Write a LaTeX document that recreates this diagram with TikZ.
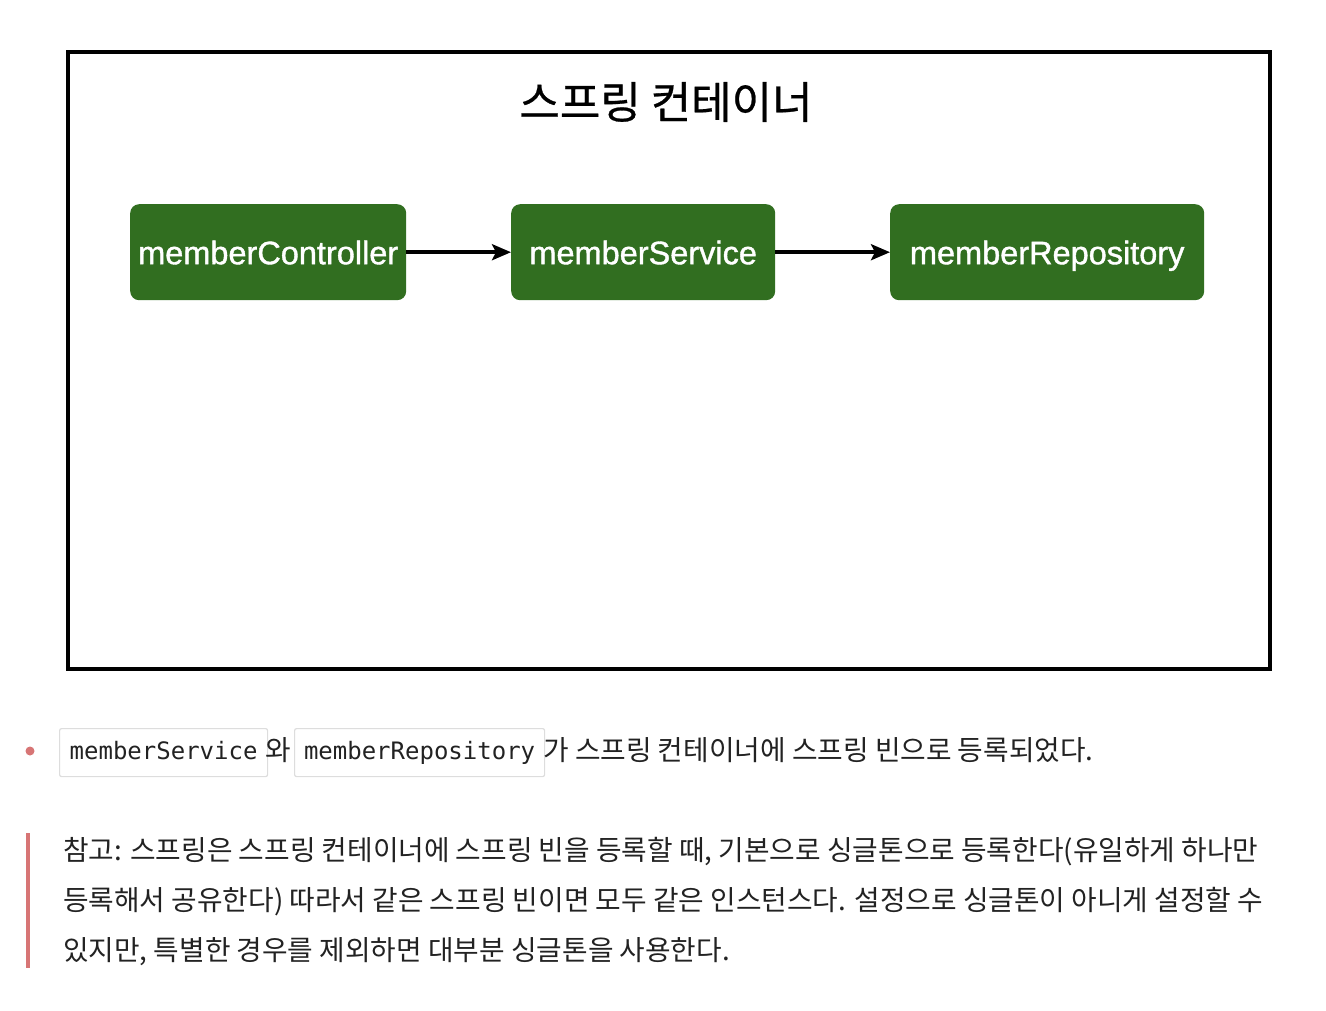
\documentclass[tikz,border=0pt]{standalone}
\usepackage{fontspec}
\usetikzlibrary{arrows.meta}
\newfontfamily\krfont{Noto Sans CJK KR}
\newfontfamily\titlefont[FakeBold=0.6]{Noto Sans CJK KR}
\newfontfamily\boxfont[FakeBold=1.2]{Liberation Sans}
\newfontfamily\codefont{DejaVu Sans Mono}
\definecolor{beangreen}{HTML}{316E20}
\definecolor{txt}{HTML}{222222}
\definecolor{quotebar}{HTML}{D77575}
\definecolor{codeborder}{HTML}{DDDDDD}
\tikzset{
  bean/.style={draw=none, fill=beangreen, rounded corners=9pt, text=white,
    font=\boxfont\fontsize{32.5}{38}\selectfont, inner sep=0pt, anchor=north west,
    text height=28pt, text depth=4pt},
  link/.style={line width=3.5pt, -{Stealth[length=19pt,width=16pt,inset=4pt]}},
  codebox/.style={draw=codeborder, line width=1.2pt, rounded corners=2pt, fill=white,
    font=\codefont\fontsize{24}{28}\selectfont, text=txt, inner sep=0pt, anchor=north west,
    text height=18pt, text depth=4pt},
  body/.style={font=\krfont\fontsize{27.8}{32}\selectfont, text=txt, inner sep=0pt, anchor=west},
}
\begin{document}
\begin{tikzpicture}[x=1pt,y=-1pt]
\useasboundingbox (0,0) rectangle (1326,1010);
% container
\node[draw=black, line width=4pt, minimum width=1202pt, minimum height=617pt, anchor=north west, inner sep=0pt] (container) at (66,50) {};
\node[font=\titlefont\fontsize{44}{50}\selectfont, text=black, inner sep=0pt] (title) at (666,102) {스프링 컨테이너};
% beans
\node[bean, minimum width=276pt, minimum height=96pt] (ctrl) at (130,204) {memberController};
\node[bean, minimum width=264pt, minimum height=96pt] (svc) at (511,204) {memberService};
\node[bean, minimum width=314pt, minimum height=96pt] (repo) at (890,204) {memberRepository};
\draw[link] (ctrl.east) -- (svc.west);
\draw[link] (svc.east) -- (repo.west);
% bullet line
\fill[quotebar] (30,751) circle (4.5pt);
\node[codebox, minimum width=208pt, minimum height=48pt] (c1) at (59,728) {memberService};
\node[body, anchor=west] (wa) at (265,750) {와};
\node[codebox, minimum width=250pt, minimum height=48pt] (c2) at (294,728) {memberRepository};
\node[body] (rest) at (543,750) {가 스프링 컨테이너에 스프링 빈으로 등록되었다.};
% quote
\fill[quotebar] (26,833) rectangle (29.5,968);
\node[body] (q1) at (63,852) {참고: 스프링은 스프링 컨테이너에 스프링 빈을 등록할 때, 기본으로 싱글톤으로 등록한다(유일하게 하나만};
\node[body] (q2) at (63,902) {등록해서 공유한다) 따라서 같은 스프링 빈이면 모두 같은 인스턴스다. 설정으로 싱글톤이 아니게 설정할 수};
\node[body] (q3) at (63,952) {있지만, 특별한 경우를 제외하면 대부분 싱글톤을 사용한다.};
\end{tikzpicture}
\end{document}
